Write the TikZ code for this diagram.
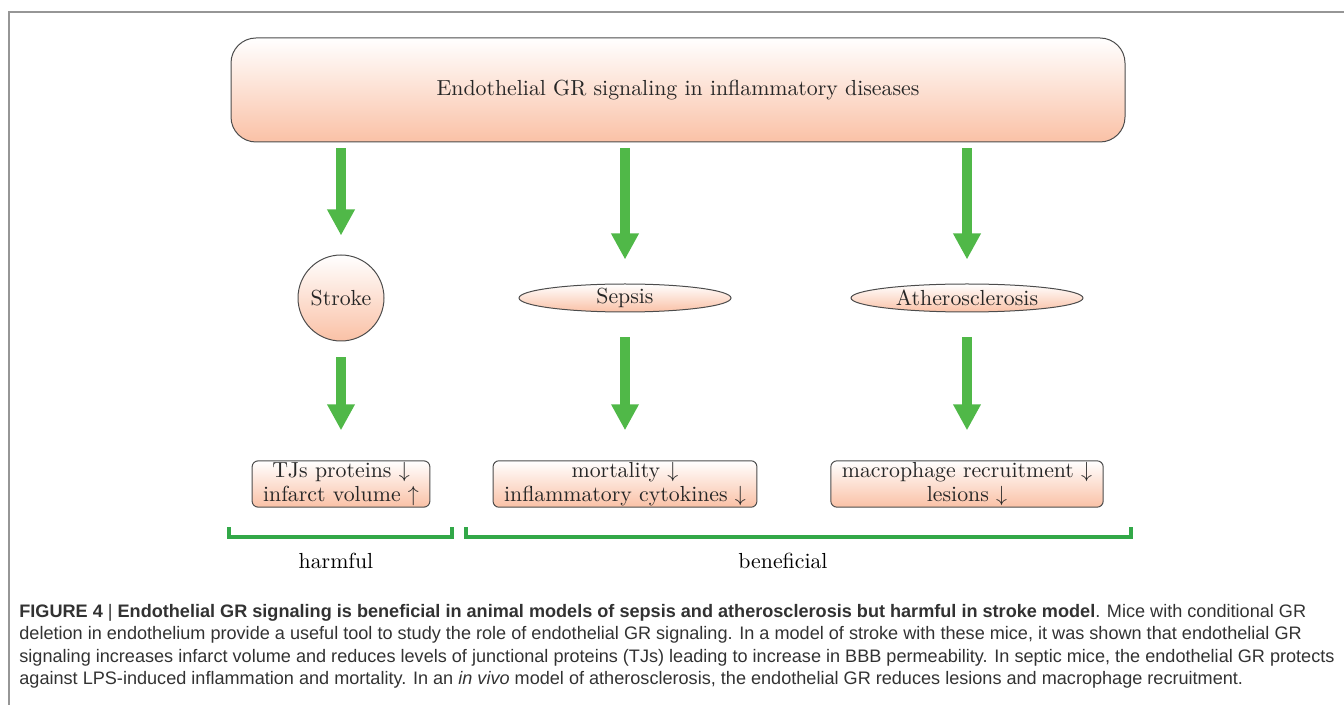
\documentclass[tikz,border=0pt]{standalone}
\usepackage{fontspec}
\newfontfamily\capfont{Liberation Sans}
\usetikzlibrary{arrows.meta,shapes.geometric}
\definecolor{peach}{RGB}{250,193,166}
\definecolor{arrowgreen}{RGB}{80,184,72}
\definecolor{bracegreen}{RGB}{50,168,72}
\definecolor{framegray}{RGB}{150,150,150}
\definecolor{captext}{RGB}{50,50,50}

\begin{document}
\begin{tikzpicture}[x=0.5pt,y=-0.5pt,
font=\fontsize{10.9}{11.8}\selectfont,
shaded/.style={draw=black!70, line width=0.5pt, top color=white, bottom color=peach, text=black!85},
topbox/.style={shaded, rectangle, rounded corners=12.5pt, minimum width=447pt, minimum height=52pt},
roundnode/.style={shaded, circle, minimum size=43pt, inner sep=0pt},
ovalnode/.style={shaded, ellipse, minimum height=14pt, inner sep=0pt},
resultbox/.style={shaded, rectangle, rounded corners=3pt, align=center, inner xsep=5.5pt, inner ysep=0.8pt},
flow/.style={arrowgreen, line width=5pt, -{Triangle[width=13pt,length=13pt]}},
bracket/.style={bracegreen, line width=2pt},
caption/.style={anchor=base west, inner sep=0pt, font=\capfont\fontsize{9.05}{10}\selectfont, text=captext},
]
\useasboundingbox (0,0) rectangle (1344,705);

%Frame
\draw[framegray, line width=0.75pt] (1344,12) -- (9,12) -- (9,705);

%Nodes
\node[topbox]     (gr)        at (678,90)  {Endothelial GR signaling in inflammatory diseases};
\node[roundnode]  (stroke)    at (341,298) {Stroke};
\node[ovalnode, minimum width=106pt] (sepsis)    at (625,298) {Sepsis};
\node[ovalnode, minimum width=116pt] (athero)    at (967,298) {Atherosclerosis};
\node[resultbox]  (strokeres) at (341,484) {TJs proteins $\downarrow$\\infarct volume $\uparrow$};
\node[resultbox]  (sepsisres) at (625,484) {mortality $\downarrow$\\inflammatory cytokines $\downarrow$};
\node[resultbox]  (atherores) at (967,484) {macrophage recruitment $\downarrow$\\lesions $\downarrow$};

%Arrows
\draw[flow, shorten <=3pt, shorten >=9.5pt] (gr.south -| stroke) -- (stroke);
\draw[flow, shorten <=3pt, shorten >=12pt] (gr.south -| sepsis) -- (sepsis);
\draw[flow, shorten <=3pt, shorten >=12pt] (gr.south -| athero) -- (athero);
\draw[flow, shorten <=8pt, shorten >=15pt] (stroke) -- (strokeres);
\draw[flow, shorten <=12.5pt, shorten >=15pt] (sepsis) -- (sepsisres);
\draw[flow, shorten <=12.5pt, shorten >=15pt] (athero) -- (atherores);

%Brackets
\coordinate (harmL) at (229,527);
\coordinate (harmR) at (452,527);
\coordinate (beneL) at (466,527);
\coordinate (beneR) at (1131,527);
\draw[bracket] (harmL) -- ++(0,10) -| (harmR);
\draw[bracket] (beneL) -- ++(0,10) -| (beneR);
\node (harmful)    at (336,561) {harmful};
\node (beneficial) at (783,561) {beneficial};

%Caption
\node[caption] (cap1) at (19,617) {\textbf{FIGURE 4} | \textbf{Endothelial GR signaling is beneficial in animal models of sepsis and atherosclerosis but harmful in stroke model}. Mice with conditional GR};
\node[caption] (cap2) at (19,639) {deletion in endothelium provide a useful tool to study the role of endothelial GR signaling. In a model of stroke with these mice, it was shown that endothelial GR};
\node[caption] (cap3) at (19,662) {signaling increases infarct volume and reduces levels of junctional proteins (TJs) leading to increase in BBB permeability. In septic mice, the endothelial GR protects};
\node[caption] (cap4) at (19,684) {against LPS-induced inflammation and mortality. In an \textit{in vivo} model of atherosclerosis, the endothelial GR reduces lesions and macrophage recruitment.};
\end{tikzpicture}
\end{document}
